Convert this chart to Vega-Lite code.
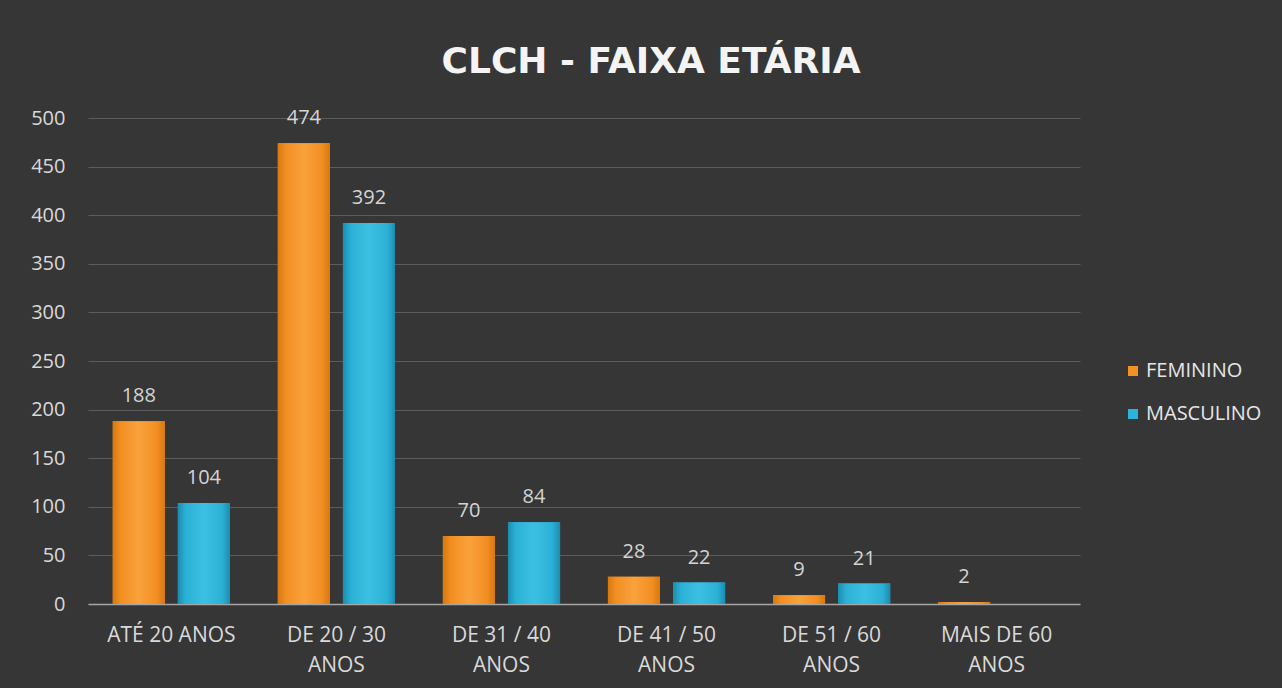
{
  "$schema": "https://vega.github.io/schema/vega-lite/v6.json",
  "width": 992,
  "height": 486,
  "autosize": "none",
  "padding": {"left": 88, "top": 118, "right": 202, "bottom": 84},
  "background": "#363636",
  "title": {
    "text": "CLCH - FAIXA ETÁRIA",
    "font": "DejaVu Sans",
    "fontSize": 36,
    "fontWeight": "bold",
    "color": "#f4f4f4",
    "anchor": "middle",
    "dx": 67,
    "offset": 27,
    "limit": 0
  },
  "data": {
    "values": [
      {"faixa": "ATÉ 20 ANOS", "sexo": "FEMININO", "valor": 188},
      {"faixa": "ATÉ 20 ANOS", "sexo": "MASCULINO", "valor": 104},
      {"faixa": "DE 20 / 30\nANOS", "sexo": "FEMININO", "valor": 474},
      {"faixa": "DE 20 / 30\nANOS", "sexo": "MASCULINO", "valor": 392},
      {"faixa": "DE 31 / 40\nANOS", "sexo": "FEMININO", "valor": 70},
      {"faixa": "DE 31 / 40\nANOS", "sexo": "MASCULINO", "valor": 84},
      {"faixa": "DE 41 / 50\nANOS", "sexo": "FEMININO", "valor": 28},
      {"faixa": "DE 41 / 50\nANOS", "sexo": "MASCULINO", "valor": 22},
      {"faixa": "DE 51 / 60\nANOS", "sexo": "FEMININO", "valor": 9},
      {"faixa": "DE 51 / 60\nANOS", "sexo": "MASCULINO", "valor": 21},
      {"faixa": "MAIS DE 60\nANOS", "sexo": "FEMININO", "valor": 2},
      {"faixa": "MAIS DE 60\nANOS", "sexo": "MASCULINO", "valor": 0}
    ]
  },
  "encoding": {
    "x": {
      "field": "faixa",
      "type": "nominal",
      "sort": null,
      "title": null,
      "scale": {"paddingInner": 0.29, "paddingOuter": 0.15},
      "axis": {
        "labelAngle": 0,
        "labelExpr": "split(datum.label, '\\n')",
        "labelFont": "Open Sans",
        "labelFontSize": 21,
        "labelColor": "#d9d9d9",
        "labelLineHeight": 30,
        "labelPadding": 20,
        "labelBaseline": "top",
        "labelLimit": 0,
        "ticks": false,
        "domainColor": "#a6a6a6",
        "domainWidth": 1.5,
        "grid": false
      }
    },
    "xOffset": {"field": "sexo", "type": "nominal", "scale": {"domain": ["FEMININO", "MASCULINO"], "paddingInner": 0.2}},
    "y": {
      "field": "valor",
      "type": "quantitative",
      "title": null,
      "scale": {"domain": [0, 500], "nice": false},
      "axis": {
        "values": [0, 50, 100, 150, 200, 250, 300, 350, 400, 450, 500],
        "labelFont": "Open Sans",
        "labelFontSize": 20,
        "labelColor": "#d9d9d9",
        "labelPadding": 23,
        "ticks": false,
        "domain": false,
        "gridColor": "#5c5c5c",
        "gridWidth": 1
      }
    }
  },
  "layer": [
    {
      "mark": {"type": "bar"},
      "encoding": {
        "color": {
          "field": "sexo",
          "type": "nominal",
          "scale": {"domain": ["FEMININO", "MASCULINO"], "range": ["#F39224", "#2CB5DA"]},
          "legend": {
            "title": null,
            "orient": "none",
            "legendX": 1035,
            "legendY": 243,
            "symbolType": "square",
            "symbolSize": 100,
            "symbolStrokeWidth": 0,
            "labelFont": "Open Sans",
            "labelFontSize": 20,
            "labelColor": "#e6e6e6",
            "rowPadding": 23,
            "labelOffset": 3,
            "labelLimit": 0
          }
        }
      }
    },
    {
      "transform": [{"filter": "datum.sexo === 'FEMININO'"}],
      "mark": {
        "type": "bar",
        "fill": {
          "gradient": "linear", "x1": 0, "x2": 1, "y1": 0, "y2": 0,
          "stops": [
            {"offset": 0, "color": "#D8780E"},
            {"offset": 0.15, "color": "#F28E22"},
            {"offset": 0.5, "color": "#F9A23C"},
            {"offset": 0.85, "color": "#F28E22"},
            {"offset": 1, "color": "#D8780E"}
          ]
        }
      }
    },
    {
      "transform": [{"filter": "datum.sexo === 'MASCULINO'"}],
      "mark": {
        "type": "bar",
        "fill": {
          "gradient": "linear", "x1": 0, "x2": 1, "y1": 0, "y2": 0,
          "stops": [
            {"offset": 0, "color": "#1C8CB0"},
            {"offset": 0.15, "color": "#2BB1D6"},
            {"offset": 0.5, "color": "#3CC0E2"},
            {"offset": 0.85, "color": "#2BB1D6"},
            {"offset": 1, "color": "#1C8CB0"}
          ]
        }
      }
    },
    {
      "transform": [{"filter": "datum.valor > 0"}],
      "mark": {"type": "text", "baseline": "bottom", "dy": -15, "font": "Open Sans", "fontSize": 20, "color": "#d4d4d4"},
      "encoding": {"text": {"field": "valor", "type": "quantitative"}}
    }
  ],
  "config": {"view": {"stroke": null}}
}
